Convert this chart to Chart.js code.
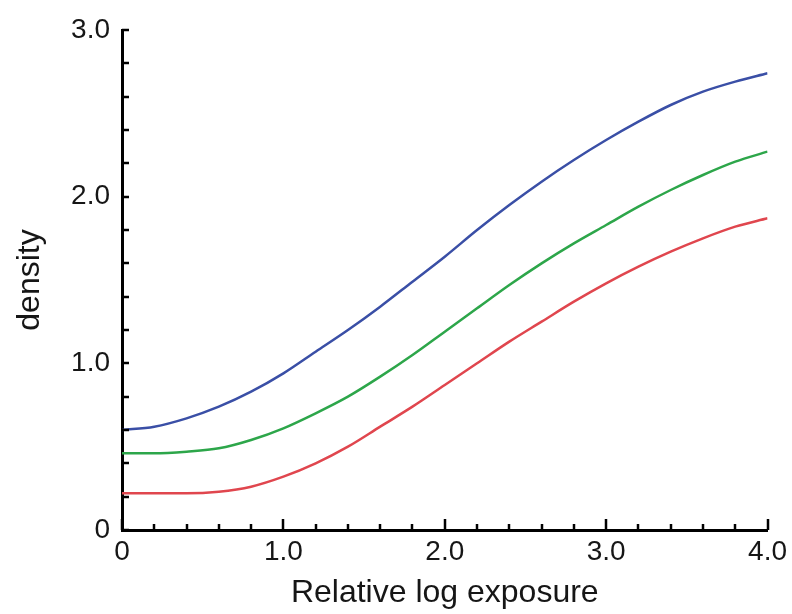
<!DOCTYPE html>
<html>
<head>
<meta charset="utf-8">
<script src="https://cdn.jsdelivr.net/npm/chart.js@4/dist/chart.umd.min.js"></script>
<style>
  html, body { margin: 0; padding: 0; background: #fff; }
  #wrap { width: 792px; height: 614px; }
</style>
</head>
<body>
<div id="wrap"><canvas id="curves"></canvas></div>
<script>
// relative log exposure, sampled every 0.2
const exposure = [0, 0.2, 0.4, 0.6, 0.8, 1.0, 1.2, 1.4, 1.6, 1.8, 2.0,
                  2.2, 2.4, 2.6, 2.8, 3.0, 3.2, 3.4, 3.6, 3.8, 4.0];

// density of each dye layer
const blueDensity  = [0.60, 0.62, 0.67, 0.74, 0.83, 0.94, 1.07, 1.20, 1.34, 1.49, 1.64,
                      1.80, 1.95, 2.09, 2.22, 2.34, 2.45, 2.55, 2.63, 2.69, 2.74];
const greenDensity = [0.46, 0.46, 0.47, 0.49, 0.54, 0.61, 0.70, 0.80, 0.92, 1.05, 1.19,
                      1.33, 1.47, 1.60, 1.72, 1.83, 1.94, 2.04, 2.13, 2.21, 2.27];
const redDensity   = [0.22, 0.22, 0.22, 0.23, 0.26, 0.32, 0.40, 0.50, 0.62, 0.74, 0.87,
                      1.00, 1.13, 1.25, 1.37, 1.48, 1.58, 1.67, 1.75, 1.82, 1.87];

const xLabels = ['0', '1.0', '2.0', '3.0', '4.0'];
const yLabels = ['0', '1.0', '2.0', '3.0'];

const FONT = "'Liberation Sans', Arial, Helvetica, sans-serif";

function toPoints(ys) {
    return exposure.map((x, i) => ({ x, y: ys[i] }));
}

function isWhole(v) {
    return Math.abs(v - Math.round(v)) < 1e-6;
}

// short tick marks pointing into the plot, every 0.2
const inwardTicks = {
    id: 'inwardTicks',
    afterDraw(chart) {
        const { ctx, chartArea, scales } = chart;
        ctx.save();
        ctx.strokeStyle = '#000';
        ctx.lineWidth = 2.5;
        scales.x.ticks.forEach(t => {
            const px = Math.round(scales.x.getPixelForValue(t.value));
            const len = isWhole(t.value) ? 11 : 6;
            ctx.beginPath();
            ctx.moveTo(px, chartArea.bottom);
            ctx.lineTo(px, chartArea.bottom - len);
            ctx.stroke();
        });
        scales.y.ticks.forEach(t => {
            const py = Math.round(scales.y.getPixelForValue(t.value));
            ctx.beginPath();
            ctx.moveTo(chartArea.left, py);
            ctx.lineTo(chartArea.left + 7, py);
            ctx.stroke();
        });
        ctx.restore();
    }
};

function line(label, data, color) {
    return {
        label,
        data: toPoints(data),
        borderColor: color,
        borderWidth: 2.5,
        pointRadius: 0,
        fill: false,
        cubicInterpolationMode: 'monotone'
    };
}

new Chart(document.getElementById('curves'), {
    type: 'line',
    data: {
        datasets: [
            line('blue', blueDensity, '#3a4fa6'),
            line('green', greenDensity, '#2da64a'),
            line('red', redDensity, '#e0464e')
        ]
    },
    options: {
        responsive: true,
        maintainAspectRatio: false,
        animation: false,
        events: [],
        layout: { padding: { top: 30, right: 24, left: 0, bottom: 0 } },
        plugins: { legend: { display: false }, tooltip: { enabled: false } },
        scales: {
            x: {
                type: 'linear',
                min: 0,
                max: 4,
                afterFit(scale) { scale.height = 84; },
                grid: { display: false, drawTicks: false },
                border: { display: true, color: '#000', width: 3 },
                ticks: {
                    stepSize: 0.2,
                    autoSkip: false,
                    maxRotation: 0,
                    padding: 5,
                    color: '#161616',
                    font: { family: FONT, size: 28 },
                    callback: v => isWhole(v) ? xLabels[Math.round(v)] : ''
                },
                title: {
                    display: true,
                    text: 'Relative log exposure',
                    color: '#161616',
                    padding: { top: 0, bottom: 2 },
                    font: { family: FONT, size: 32 }
                }
            },
            y: {
                min: 0,
                max: 3,
                afterFit(scale) { scale.width = 122; },
                grid: { display: false, drawTicks: false },
                border: { display: true, color: '#000', width: 3 },
                ticks: {
                    stepSize: 0.2,
                    autoSkip: false,
                    padding: 12,
                    color: '#161616',
                    font: { family: FONT, size: 28 },
                    callback: v => isWhole(v) ? yLabels[Math.round(v)] : ''
                },
                title: {
                    display: true,
                    text: 'density',
                    color: '#161616',
                    padding: { top: 11, bottom: 0 },
                    font: { family: FONT, size: 32 }
                }
            }
        }
    },
    plugins: [inwardTicks]
});
</script>
</body>
</html>
